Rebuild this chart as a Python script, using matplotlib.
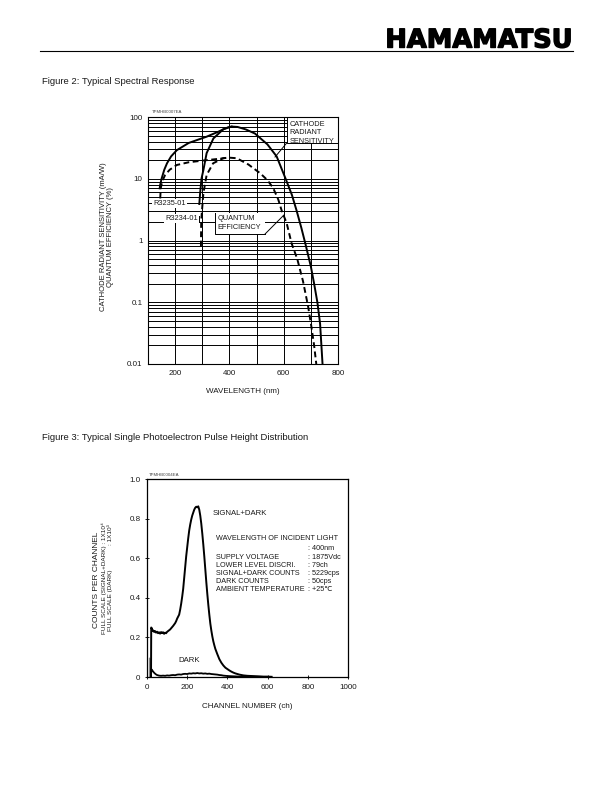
import matplotlib
matplotlib.use("Agg")
import matplotlib.pyplot as plt
import matplotlib.patheffects as pe
from matplotlib.patches import Rectangle
from matplotlib.ticker import FixedLocator, LogLocator, NullFormatter

plt.rcParams['font.family'] = ['Liberation Sans', 'DejaVu Sans']

W, H = 612, 792

# ---- Figure 2 data: spectral response ----
wl_cat_3235 = [143, 145, 150, 160, 170, 185, 206, 250, 316, 360, 380, 408, 430, 460, 494,
               540, 574, 607, 630, 647, 665, 680, 700, 712, 724, 734, 743]
cat_3235 = [7.0, 8.0, 10.0, 14.0, 17.8, 23, 29, 38, 48, 58, 64, 70, 69, 63, 54,
            36, 23, 10, 5.5, 3.1, 1.6, 0.88, 0.38, 0.2, 0.1, 0.045, 0.01]
wl_qe_3235 = [145, 147, 152, 163, 180, 206, 250, 316, 360, 396, 427, 470, 513, 540, 561,
              580, 592, 611, 629, 650, 671, 690, 702, 712, 720]
qe_3235 = [4.8, 7.0, 9.0, 11.5, 14, 16.7, 18.5, 20, 21, 22, 21.5, 17, 12.3, 9.5, 7.1,
           4.6, 3.1, 1.9, 0.9, 0.5, 0.22, 0.085, 0.04, 0.02, 0.01]
wl_cat_3234 = [289, 292, 297, 304, 316, 341, 377, 395, 408]
cat_3234 = [3.9, 5.8, 10, 13.8, 26, 45, 63, 68, 70]
wl_qe_3234 = [295, 296, 304, 316, 340, 377, 396]
qe_3234 = [0.8, 2.1, 5.8, 11.5, 17.8, 21.5, 22]

# ---- Figure 3 data: pulse height distribution ----
ch_sig = [20, 21, 24, 27, 30, 35, 40, 45, 50, 55, 60, 65, 70, 75, 80, 85, 90, 95, 100,
          105, 110, 115, 120, 125, 130, 135, 140, 145, 150, 155, 160, 165, 170, 175, 180,
          185, 190, 195, 200, 205, 210, 215, 220, 225, 230, 235, 240, 245, 250, 255, 260,
          265, 270, 275, 280, 285, 290, 295, 300, 305, 310, 315, 320, 325, 330, 335, 340,
          350, 360, 370, 380, 390, 400, 410, 420, 430, 440, 450, 460, 470, 480, 490, 500,
          520, 540, 560, 580, 600, 620]
sig = [0.0, 0.25, 0.245, 0.232, 0.236, 0.228, 0.232, 0.224, 0.229, 0.221, 0.226, 0.219,
       0.227, 0.222, 0.226, 0.218, 0.224, 0.221, 0.228, 0.232, 0.236, 0.24, 0.246, 0.252,
       0.258, 0.265, 0.272, 0.282, 0.295, 0.305, 0.315, 0.34, 0.37, 0.405, 0.445, 0.5,
       0.555, 0.61, 0.655, 0.70, 0.74, 0.77, 0.795, 0.815, 0.83, 0.845, 0.855, 0.86, 0.857,
       0.862, 0.845, 0.815, 0.775, 0.725, 0.67, 0.61, 0.545, 0.48, 0.42, 0.365, 0.315,
       0.27, 0.235, 0.205, 0.18, 0.16, 0.142, 0.115, 0.09, 0.072, 0.058, 0.047, 0.04,
       0.033, 0.027, 0.022, 0.018, 0.015, 0.012, 0.01, 0.008, 0.007, 0.006, 0.005, 0.004,
       0.003, 0.002, 0.002, 0.001]
ch_dark = [20, 21, 25, 30, 35, 40, 45, 50, 60, 70, 80, 90, 100, 110, 120, 130, 140, 150,
           160, 170, 180, 190, 200, 210, 220, 230, 240, 250, 260, 270, 280, 290, 300, 310,
           320, 330, 340, 350, 360, 370, 380, 390, 400, 420, 440, 460, 480, 500, 550, 600]
dark = [0.0, 0.04, 0.035, 0.028, 0.022, 0.017, 0.013, 0.01, 0.007, 0.006, 0.007, 0.006,
        0.008, 0.007, 0.009, 0.01, 0.009, 0.012, 0.013, 0.012, 0.015, 0.016, 0.015, 0.018,
        0.017, 0.019, 0.018, 0.02, 0.018, 0.019, 0.017, 0.018, 0.016, 0.017, 0.015, 0.014,
        0.013, 0.012, 0.01, 0.009, 0.007, 0.006, 0.005, 0.004, 0.003, 0.002, 0.002, 0.001,
        0.001, 0.0]
ch_spike = [13, 13, 15, 17]
spike = [0.0, 0.095, 0.07, 0.03]

info_keys = ["SUPPLY VOLTAGE", "LOWER LEVEL DISCRI.", "SIGNAL+DARK COUNTS",
             "DARK COUNTS", "AMBIENT TEMPERATURE"]
info_vals = [": 1875Vdc", ": 79ch", ": 5229cps", ": 50cps", ": +25\u2103"]

TXT = '#1a1a1a'


def fx(x):
    return x / W


def fy(y):
    return 1 - y / H


fig = plt.figure(figsize=(W / 100, H / 100), dpi=100)

# header
fig.text(fx(573), fy(40.5), "HAMAMATSU", ha='right', va='center', fontsize=18.5,
         family='DejaVu Sans', fontweight='heavy', color='black',
         path_effects=[pe.withStroke(linewidth=1.0, foreground='black')])
fig.add_artist(plt.Line2D([fx(40), fx(573)], [fy(50.5), fy(50.5)], color='black', lw=0.8))

fig.text(fx(42), fy(82), "Figure 2: Typical Spectral Response", fontsize=6.8,
         va='center', color=TXT)
fig.text(fx(42), fy(437), "Figure 3: Typical Single Photoelectron Pulse Height Distribution",
         fontsize=6.8, va='center', color=TXT)

# ---------------- Figure 2 ----------------
ax = fig.add_axes([fx(148), fy(364), (338 - 148) / W, (364 - 117) / H])
ax.set_yscale('log')
ax.set_xlim(100, 800)
ax.set_ylim(0.01, 100)
ax.xaxis.set_major_locator(FixedLocator([200, 400, 600, 800]))
ax.xaxis.set_minor_locator(FixedLocator([100, 300, 500, 700]))
ax.yaxis.set_major_locator(FixedLocator([0.01, 0.1, 1, 10, 100]))
ax.yaxis.set_minor_locator(LogLocator(base=10, subs=range(2, 10)))
ax.yaxis.set_minor_formatter(NullFormatter())
ax.set_yticklabels(["0.01", "0.1", "1", "10", "100"])
ax.grid(True, which='both', color='black', lw=0.7, zorder=1)
ax.set_axisbelow(True)
ax.tick_params(which='both', length=0, labelsize=5.8, colors=TXT, pad=4)
for s in ax.spines.values():
    s.set_linewidth(0.8)

ax.plot(wl_cat_3235, cat_3235, color='black', lw=1.4, zorder=4)
ax.plot(wl_cat_3234, cat_3234, color='black', lw=1.4, zorder=4)
ax.plot(wl_qe_3235, qe_3235, color='black', lw=1.4, ls=(0, (3, 1.8)), zorder=4)
ax.plot(wl_qe_3234, qe_3234, color='black', lw=1.4, ls=(0, (3, 1.8)), zorder=4)

# cathode label box
ax.add_patch(Rectangle((0.73, 0.895), 0.27, 0.105, transform=ax.transAxes,
                       facecolor='white', edgecolor='none', zorder=2))
ax.plot([0.73, 0.73, 1.0], [1.0, 0.895, 0.895], transform=ax.transAxes,
        color='black', lw=0.7, zorder=3)
ax.plot([611, 568], [37.9, 22.5], color='black', lw=0.7, zorder=3)
ax.text(0.745, 0.985, "CATHODE\nRADIANT\nSENSITIVITY", transform=ax.transAxes,
        fontsize=5.3, va='top', ha='left', linespacing=1.3, color=TXT, zorder=3)

# quantum efficiency label box
ax.add_patch(Rectangle((0.353, 0.526), 0.263, 0.085, transform=ax.transAxes,
                       facecolor='white', edgecolor='none', zorder=2))
ax.plot([0.353, 0.353, 0.616], [0.611, 0.526, 0.526], transform=ax.transAxes,
        color='black', lw=0.7, zorder=3)
ax.plot([531, 601], [1.27, 2.59], color='black', lw=0.7, zorder=3)
ax.text(0.365, 0.603, "QUANTUM\nEFFICIENCY", transform=ax.transAxes,
        fontsize=5.3, va='top', ha='left', linespacing=1.3, color=TXT, zorder=3)

# tube labels
ax.text(0.026, 0.649, "R3235-01", transform=ax.transAxes, fontsize=5.3, va='center',
        ha='left', color=TXT, zorder=3,
        bbox=dict(facecolor='white', edgecolor='none', pad=0.8))
ax.text(0.09, 0.589, "R3234-01", transform=ax.transAxes, fontsize=5.3, va='center',
        ha='left', color=TXT, zorder=3,
        bbox=dict(facecolor='white', edgecolor='none', pad=0.8))
ax.plot([288, 288], [2.49, 1.99], color='black', lw=0.7, zorder=3)

ax.text(0.02, 1.012, "TPMHB0007EA", transform=ax.transAxes, fontsize=3.2,
        va='bottom', ha='left', color='#444444')
ax.set_xlabel("WAVELENGTH (nm)", fontsize=5.8, color=TXT, labelpad=8)
fig.text(fx(103), fy(237), "CATHODE RADIANT SENSITIVITY (mA/W)", rotation=90,
         fontsize=5.5, ha='center', va='center', color=TXT)
fig.text(fx(110.5), fy(237), "QUANTUM EFFICIENCY (%)", rotation=90,
         fontsize=5.5, ha='center', va='center', color=TXT)

# ---------------- Figure 3 ----------------
bx = fig.add_axes([fx(147), fy(677), (348 - 147) / W, (677 - 479) / H])
bx.set_xlim(0, 1000)
bx.set_ylim(0, 1.0)
bx.set_xticks([0, 200, 400, 600, 800, 1000])
bx.set_yticks([0, 0.2, 0.4, 0.6, 0.8, 1.0])
bx.set_yticklabels(["0", "0.2", "0.4", "0.6", "0.8", "1.0"])
bx.tick_params(direction='inout', length=3.5, width=0.7, labelsize=5.8, colors=TXT, pad=3)
for s in bx.spines.values():
    s.set_linewidth(0.9)

bx.plot(ch_spike, spike, color='#888888', lw=1.0)
bx.plot(ch_sig, sig, color='black', lw=1.4)
bx.plot(ch_dark, dark, color='black', lw=1.3)

bx.text(0.325, 0.827, "SIGNAL+DARK", transform=bx.transAxes, fontsize=5.6,
        va='center', ha='left', color=TXT)
bx.text(0.157, 0.081, "DARK", transform=bx.transAxes, fontsize=5.6,
        va='center', ha='left', color=TXT)

x_key, x_val = 216.5, 307.5
fig.text(fx(x_key), fy(539), "WAVELENGTH OF INCIDENT LIGHT", fontsize=5.2,
         va='center', color=TXT)
fig.text(fx(x_val), fy(549), ": 400nm", fontsize=5.2, va='center', color=TXT)
for i, (k, v) in enumerate(zip(info_keys, info_vals)):
    yy = 557.3 + 8 * i
    fig.text(fx(x_key), fy(yy), k, fontsize=5.2, va='center', color=TXT)
    fig.text(fx(x_val), fy(yy), v, fontsize=5.2, va='center', color=TXT)

bx.text(0.01, 1.012, "TPMHB0004EA", transform=bx.transAxes, fontsize=3.2,
        va='bottom', ha='left', color='#444444')
bx.set_xlabel("CHANNEL NUMBER (ch)", fontsize=5.8, color=TXT, labelpad=9)
fig.text(fx(97), fy(580), "COUNTS PER CHANNEL", rotation=90, fontsize=6,
         ha='center', va='center', color=TXT)
fig.text(fx(104), fy(578), "FULL SCALE (SIGNAL+DARK) : 1X10\u2074", rotation=90,
         fontsize=4.6, ha='center', va='center', color=TXT)
fig.text(fx(110), fy(578), "FULL SCALE (DARK)              : 1X10\u00b3", rotation=90,
         fontsize=4.6, ha='center', va='center', color=TXT)

fig.savefig("out.png", dpi=100)
